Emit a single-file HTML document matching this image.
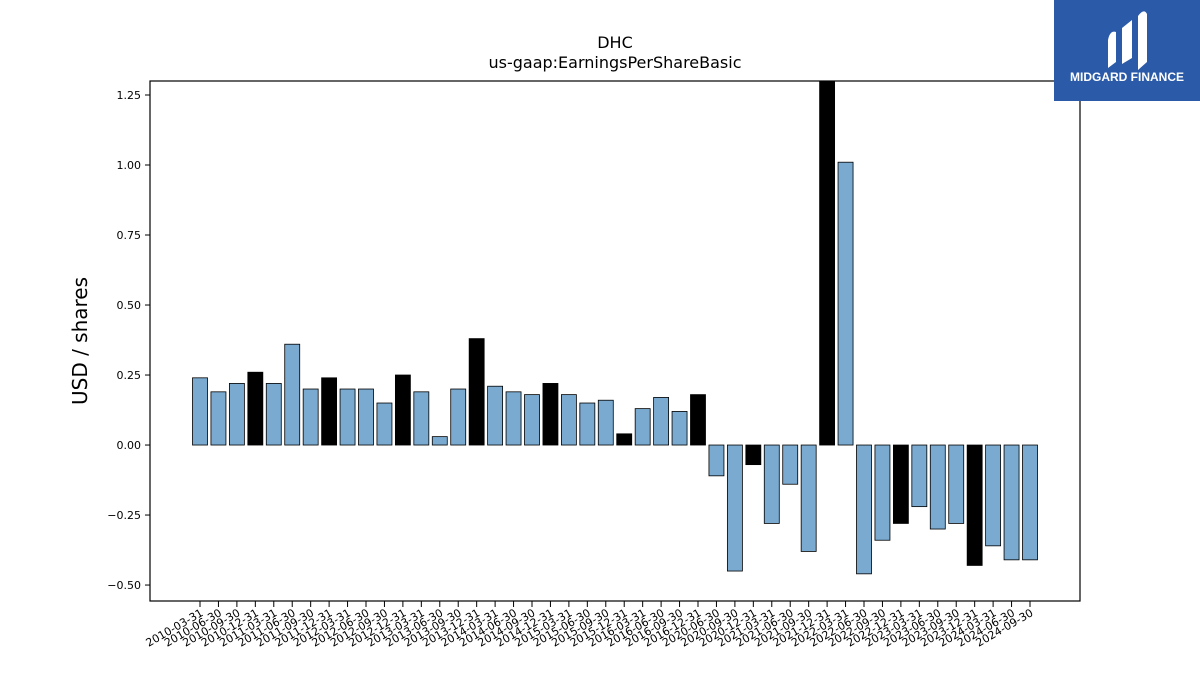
<!DOCTYPE html>
<html><head><meta charset="utf-8"><style>
body{margin:0;background:#fff;font-family:"Liberation Sans","DejaVu Sans",sans-serif;}
</style></head><body>
<svg width="1200" height="675" xmlns="http://www.w3.org/2000/svg">
<rect width="1200" height="675" fill="#fff"/>
<text x="615" y="48" text-anchor="middle" font-size="16" font-family="DejaVu Sans, sans-serif">DHC</text>
<text x="615" y="68" text-anchor="middle" font-size="16" font-family="DejaVu Sans, sans-serif">us-gaap:EarningsPerShareBasic</text>
<text transform="translate(87,341) rotate(-90)" text-anchor="middle" font-size="20" font-family="DejaVu Sans, sans-serif">USD / shares</text>
<g id="plot"></g>
<rect x="150" y="81" width="930" height="520" fill="none" stroke="#000" stroke-width="1.2"/>
<g>
<rect x="1054" y="0" width="146" height="101" fill="#2a5aa8"/>
<path d="M1108 68 L1108 40 Q1110 30 1116 32 L1116 62 Z M1122 64 L1122 28 L1132 20 L1132 58 Z M1138 70 L1138 16 Q1144 8 1147 14 L1147 62 Z" fill="#fff"/>
<text x="1127" y="81" text-anchor="middle" font-size="12" font-weight="bold" fill="#fff">MIDGARD FINANCE</text>
</g>
</svg>
<script>
const categories=["2010-03-31","2010-06-30","2010-09-30","2010-12-31","2011-03-31","2011-06-30","2011-09-30","2011-12-31","2012-03-31","2012-06-30","2012-09-30","2012-12-31","2013-03-31","2013-06-30","2013-09-30","2013-12-31","2014-03-31","2014-06-30","2014-09-30","2014-12-31","2015-03-31","2015-06-30","2015-09-30","2015-12-31","2016-03-31","2016-06-30","2016-09-30","2016-12-31","2020-06-30","2020-09-30","2020-12-31","2021-03-31","2021-06-30","2021-09-30","2021-12-31","2022-03-31","2022-06-30","2022-09-30","2022-12-31","2023-03-31","2023-06-30","2023-09-30","2023-12-31","2024-03-31","2024-06-30","2024-09-30"];
const values=[0.24,0.19,0.22,0.26,0.22,0.36,0.20,0.24,0.20,0.20,0.15,0.25,0.19,0.03,0.20,0.38,0.21,0.19,0.18,0.22,0.18,0.15,0.16,0.04,0.13,0.17,0.12,0.18,-0.11,-0.45,-0.07,-0.28,-0.14,-0.38,1.30,1.01,-0.46,-0.34,-0.28,-0.22,-0.30,-0.28,-0.43,-0.36,-0.41,-0.41];
const yTicks=[-0.5,-0.25,0,0.25,0.5,0.75,1.0,1.25];
const NS="http://www.w3.org/2000/svg";
const plotG=document.getElementById('plot');
const yMin=-0.557,yMax=1.3,pTop=81,pBot=601,pLeft=150,pRight=1080;
const yS=v=>pBot-(v-yMin)/(yMax-yMin)*(pBot-pTop);
const x0=200,step=(1030-200)/(categories.length-1);
const xS=i=>x0+i*step;
function mk(t,a){const e=document.createElementNS(NS,t);for(const k in a)e.setAttribute(k,a[k]);plotG.appendChild(e);return e;}
yTicks.forEach(t=>{
 const l=mk('line',{x1:pLeft-5,x2:pLeft,y1:yS(t),y2:yS(t),stroke:'#000'});
 
 
 const tx=mk('text',{x:pLeft-9,y:yS(t)+4,'text-anchor':'end','font-size':11,'font-family':'DejaVu Sans, sans-serif'});
 tx.textContent=t.toFixed(2).replace('-','−');
 
 
});
values.forEach((v,i)=>{
 const yy=Math.max(yS(Math.max(v,0)),pTop), y2=yS(Math.min(v,0));
 const annual=categories[i].endsWith('12-31');
 const r=mk('rect',{x:xS(i)-7.5,y:yy,width:15,height:y2-yy,fill:annual?'#000':'#7aaad0',stroke:'#000','stroke-width':0.8});
 
 
 const l=mk('line',{x1:xS(i),x2:xS(i),y1:pBot,y2:pBot+6,stroke:'#000'});
 
 
 const tx=mk('text',{x:0,y:0,'text-anchor':'end','font-size':11,'font-family':'DejaVu Sans, sans-serif',transform:`translate(${xS(i)+4},${pBot+14}) rotate(-30)`});
 tx.textContent=categories[i];
 
 
});
</script>
</body></html>
